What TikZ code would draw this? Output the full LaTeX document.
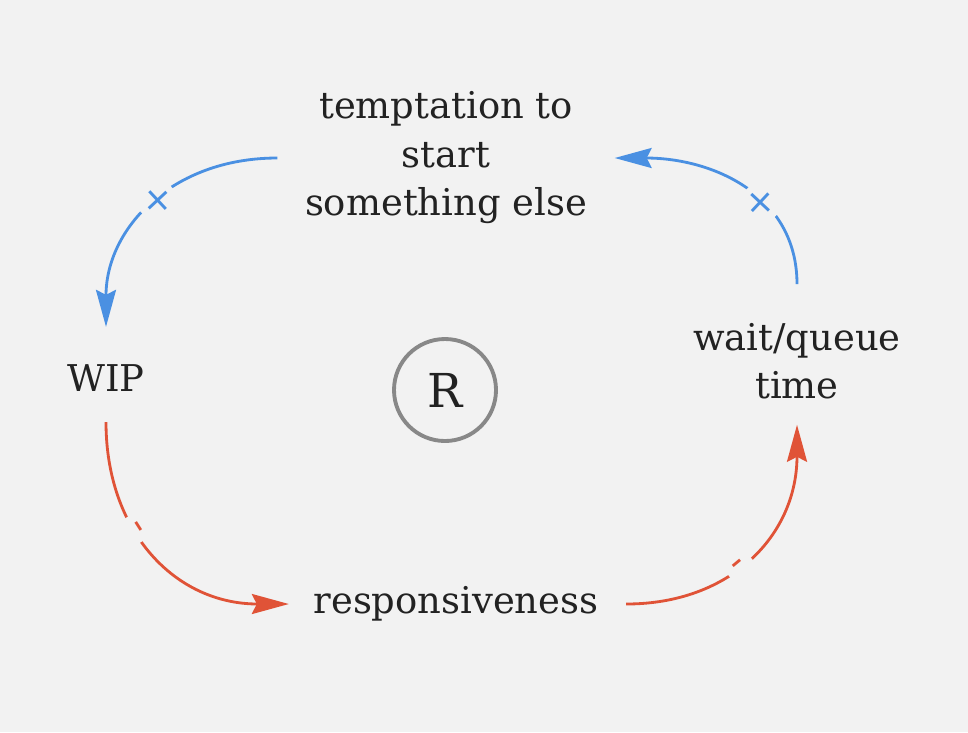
\documentclass[tikz,border=0pt]{standalone}
\usepackage{fontspec}
\setmainfont{DejaVu Serif}
\usetikzlibrary{arrows.meta}

\definecolor{bgcol}{HTML}{F2F2F2}
\definecolor{plusblue}{HTML}{4A90E2}
\definecolor{minusred}{HTML}{E05337}
\definecolor{textcol}{HTML}{222222}
\definecolor{loopgray}{HTML}{888888}

\tikzset{
  var/.style={text=textcol, align=center, inner xsep=0.27cm, inner ysep=0.3cm,
    font=\fontsize{10.5}{13.8}\selectfont},
  link/.style={line width=0.8pt, looseness=1.1,
    -{Stealth[length=3.7mm,width=2mm,inset=0.5mm]}},
  pos link/.style={link, plusblue},
  neg link/.style={link, minusred},
  sign/.style={sloped, fill=bgcol, inner sep=1pt, font=\fontsize{11}{11}\selectfont},
  minus sign/.style={sign, inner xsep=2.2pt}
}

\begin{document}
\begin{tikzpicture}
    \fill [bgcol] (0,0) rectangle (9.68,7.32);

    \node [var] (tempt) at (4.46,5.74) {temptation to\\start\\something else};
    \node [var] (wip) at (1.06,3.54) {WIP};
    \node [var] (wait) at (7.97,3.71) {wait/queue\\time};
    \node [var] (resp) at (4.56,1.28) {responsiveness};

    \node [circle, draw=loopgray, line width=1.1pt, minimum size=1.02cm,
      text=textcol, font=\fontsize{13.3}{16}\selectfont] (loop) at (4.45,3.42) {R};

    \draw [pos link, shorten >=0.07cm] (tempt.west) to[out=180,in=90]
      node [sign, pos=0.47] {+} (wip.north);
    \draw [neg link, shorten >=-0.03cm] (wip.south) to[out=-90,in=180]
      node [minus sign, pos=0.38] {-} (resp.west);
    \draw [neg link, shorten >=-0.05cm] (resp.east) to[out=0,in=-90]
      node [minus sign, pos=0.44] {-} (wait.south);
    \draw [pos link, shorten <=0.08cm] (wait.north) to[out=90,in=0]
      node [sign, pos=0.4] {+} (tempt.east);
  \end{tikzpicture}
\end{document}
